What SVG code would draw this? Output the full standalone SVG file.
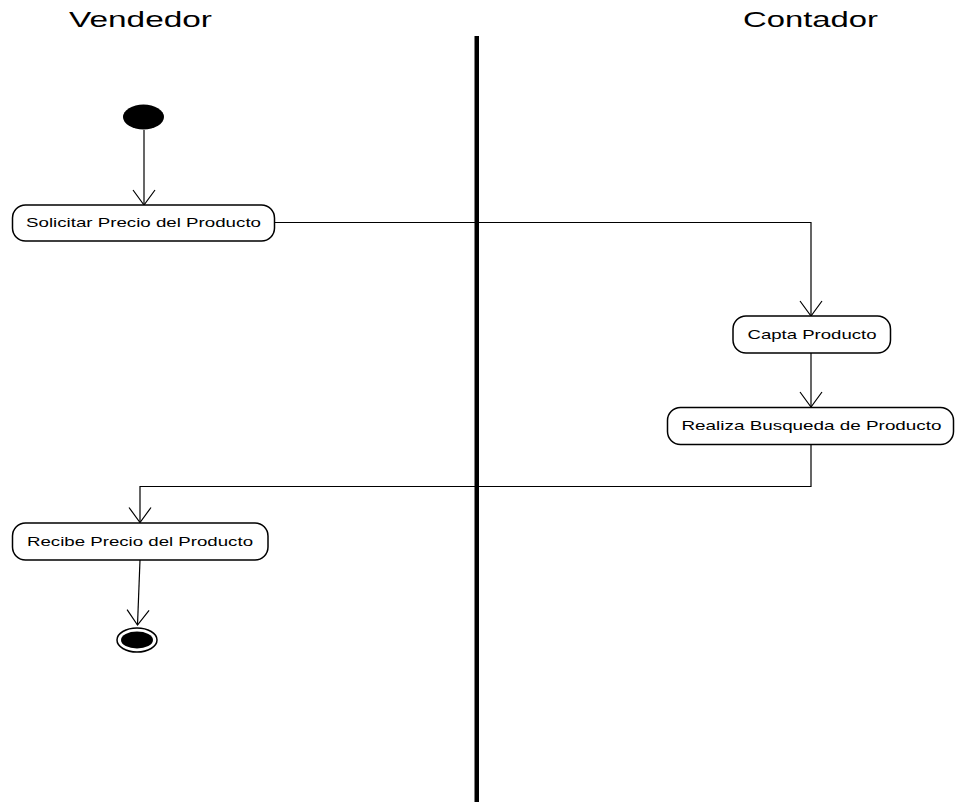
<svg xmlns="http://www.w3.org/2000/svg" width="957" height="802" viewBox="0 0 957 802">
<style>
.lane{font-family:"Liberation Sans",Arial,sans-serif;font-size:22px;fill:#000}
.lbl{font-family:"Liberation Sans",Arial,sans-serif;font-size:13px;fill:#000;text-anchor:middle}
.box{fill:#fff;stroke:#000;stroke-width:1.5}
.c{fill:none;stroke:#000;stroke-width:1.2}
</style>
<defs>
<marker id="open" viewBox="0 0 20 24" refX="16" refY="12" markerWidth="20" markerHeight="24" markerUnits="userSpaceOnUse" orient="auto">
<path d="M1,1 L16,12 L1,23" fill="none" stroke="#000" stroke-width="1.2"/>
</marker>
</defs>
<rect width="957" height="802" fill="#fff"/>
<g id="lanes">
<text class="lane" x="69" y="27" textLength="143" lengthAdjust="spacingAndGlyphs">Vendedor</text>
<text class="lane" x="743" y="27" textLength="135" lengthAdjust="spacingAndGlyphs">Contador</text>
<rect x="474.5" y="36" width="4.5" height="766" fill="#000"/>
</g>
<g id="connectors">
<path class="c" d="M144,130 V205" marker-end="url(#open)"/>
<path class="c" d="M275,222.5 H811 V316" marker-end="url(#open)"/>
<path class="c" d="M811,353 V407" marker-end="url(#open)"/>
<path class="c" d="M811,444.5 V486.5 H140 V522.5" marker-end="url(#open)"/>
<path class="c" d="M140,560 L137.5,625" marker-end="url(#open)"/>
</g>
<g id="start">
<ellipse cx="143.5" cy="117" rx="20.5" ry="12.5" fill="#000"/>
</g>
<g id="solicitar">
<rect class="box" x="12.5" y="205" width="262" height="36" rx="13" ry="13"/>
<text class="lbl" x="143.5" y="227" textLength="235" lengthAdjust="spacingAndGlyphs">Solicitar Precio del Producto</text>
</g>
<g id="capta">
<rect class="box" x="733" y="316" width="157.5" height="37" rx="13" ry="13"/>
<text class="lbl" x="812" y="338.5" textLength="129" lengthAdjust="spacingAndGlyphs">Capta Producto</text>
</g>
<g id="realiza">
<rect class="box" x="667.5" y="407.5" width="286" height="37" rx="13" ry="13"/>
<text class="lbl" x="811.5" y="430" textLength="260" lengthAdjust="spacingAndGlyphs">Realiza Busqueda de Producto</text>
</g>
<g id="recibe">
<rect class="box" x="12.5" y="523" width="255.5" height="37" rx="13" ry="13"/>
<text class="lbl" x="140" y="546" textLength="226" lengthAdjust="spacingAndGlyphs">Recibe Precio del Producto</text>
</g>
<g id="end">
<ellipse cx="137" cy="640" rx="20" ry="12" fill="#fff" stroke="#000" stroke-width="1.5"/>
<ellipse cx="137" cy="640" rx="16" ry="8.5" fill="#000"/>
</g>
</svg>
